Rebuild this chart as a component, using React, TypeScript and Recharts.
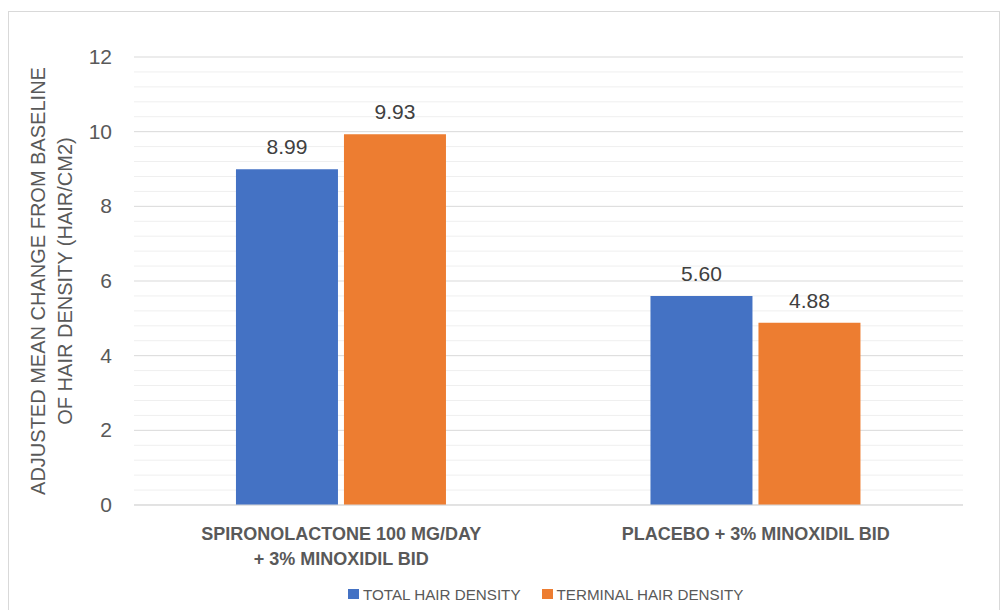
import { BarChart, Bar, XAxis, YAxis, CartesianGrid, LabelList } from "recharts";

const categories = ["SPIRONOLACTONE 100 MG/DAY\n+ 3% MINOXIDIL BID", "PLACEBO + 3% MINOXIDIL BID"];
const totalHairDensity = [8.99, 5.6];
const terminalHairDensity = [9.93, 4.88];
const yTicks = [0, 2, 4, 6, 8, 10, 12];
const minorTicks = [0.4, 0.8, 1.2, 1.6, 2.4, 2.8, 3.2, 3.6, 4.4, 4.8, 5.2, 5.6, 6.4, 6.8, 7.2, 7.6, 8.4, 8.8, 9.2, 9.6, 10.4, 10.8, 11.2, 11.6];
const yTitle = ["ADJUSTED MEAN CHANGE FROM BASELINE", "OF HAIR DENSITY (HAIR/CM2)"];
const seriesNames = ["TOTAL HAIR DENSITY", "TERMINAL HAIR DENSITY"];
const Y_MAX = 12;

const data = categories.map((c, i) => ({
  name: c,
  total: totalHairDensity[i],
  terminal: terminalHairDensity[i],
}));

const BLUE = "#4472C4";
const ORANGE = "#ED7D31";
const TEXT = "#595959";
const FONT = "'Liberation Sans', Arial, sans-serif";

// light minor gridlines between the major ticks
function minorLines(props: any) {
  const s = props?.yAxis?.scale;
  if (typeof s === "function") return minorTicks.map((v) => s(v));
  const { offset } = props;
  return minorTicks.map((v) => offset.top + offset.height * (1 - v / Y_MAX));
}

function XTick({ x, y, payload }: any) {
  const lines = String(payload.value).split("\n");
  return (
    <text textAnchor="middle" fill={TEXT} fontSize={18} fontWeight="bold" fontFamily={FONT}>
      {lines.map((l, i) => (
        <tspan key={i} x={x} y={y + 27 + i * 25}>{l}</tspan>
      ))}
    </text>
  );
}

function YTick({ x, y, payload }: any) {
  return (
    <text x={x - 14} y={y + 7} textAnchor="end" fill={TEXT} fontSize={21} fontFamily={FONT}>
      {payload.value}
    </text>
  );
}

function YTitle() {
  return (
    <text transform="translate(45 281) rotate(-90)" textAnchor="middle" fill={TEXT} fontSize={20} fontFamily={FONT}>
      <tspan x={0} dy={0}>{yTitle[0]}</tspan>
      <tspan x={0} dy={27}>{yTitle[1]}</tspan>
    </text>
  );
}

function LegendBox() {
  const colors = [BLUE, ORANGE];
  return (
    <div style={{ position: "absolute", left: 348, top: 585, display: "flex", gap: 21 }}>
      {seriesNames.map((name, i) => (
        <div key={name} style={{ display: "flex", alignItems: "center", whiteSpace: "nowrap", height: 18 }}>
          <span style={{ width: 11, height: 10, background: colors[i], display: "inline-block", marginRight: 4 }} />
          <span style={{ fontFamily: FONT, fontSize: 15.2, color: TEXT }}>{name}</span>
        </div>
      ))}
    </div>
  );
}

export default function App() {
  return (
    <div style={{ position: "absolute", left: 0, top: 0, width: 1000, height: 610, background: "#fff", overflow: "hidden" }}>
      <div style={{ position: "absolute", left: 8, top: 11, width: 990, height: 620, borderTop: "1px solid #d9d9d9", borderLeft: "1px solid #d9d9d9", borderRight: "1px solid #d9d9d9" }} />
      <BarChart
        width={1000}
        height={610}
        data={data}
        margin={{ top: 57, right: 37, bottom: 75, left: 94 }}
        barCategoryGap="24.6%"
        barGap={6}
        style={{ position: "absolute", left: 0, top: 0 }}
      >
        <CartesianGrid vertical={false} stroke="#efefef" horizontalCoordinatesGenerator={minorLines} />
        <CartesianGrid vertical={false} stroke="#d9d9d9" />
        <XAxis dataKey="name" height={30} tick={<XTick />} tickLine={false} axisLine={{ stroke: "#d9d9d9" }} interval={0} />
        <YAxis
          width={40}
          domain={[0, Y_MAX]}
          ticks={yTicks}
          tick={<YTick />}
          tickLine={false}
          axisLine={false}
          label={{ content: () => <YTitle /> }}
        />
        <Bar dataKey="total" name={seriesNames[0]} fill={BLUE} isAnimationActive={false}>
          <LabelList dataKey="total" position="top" offset={15} fill="#404040" fontSize={21} fontFamily={FONT} formatter={(v: any) => Number(v).toFixed(2)} />
        </Bar>
        <Bar dataKey="terminal" name={seriesNames[1]} fill={ORANGE} isAnimationActive={false}>
          <LabelList dataKey="terminal" position="top" offset={15} fill="#404040" fontSize={21} fontFamily={FONT} formatter={(v: any) => Number(v).toFixed(2)} />
        </Bar>
      </BarChart>
      <LegendBox />
    </div>
  );
}
